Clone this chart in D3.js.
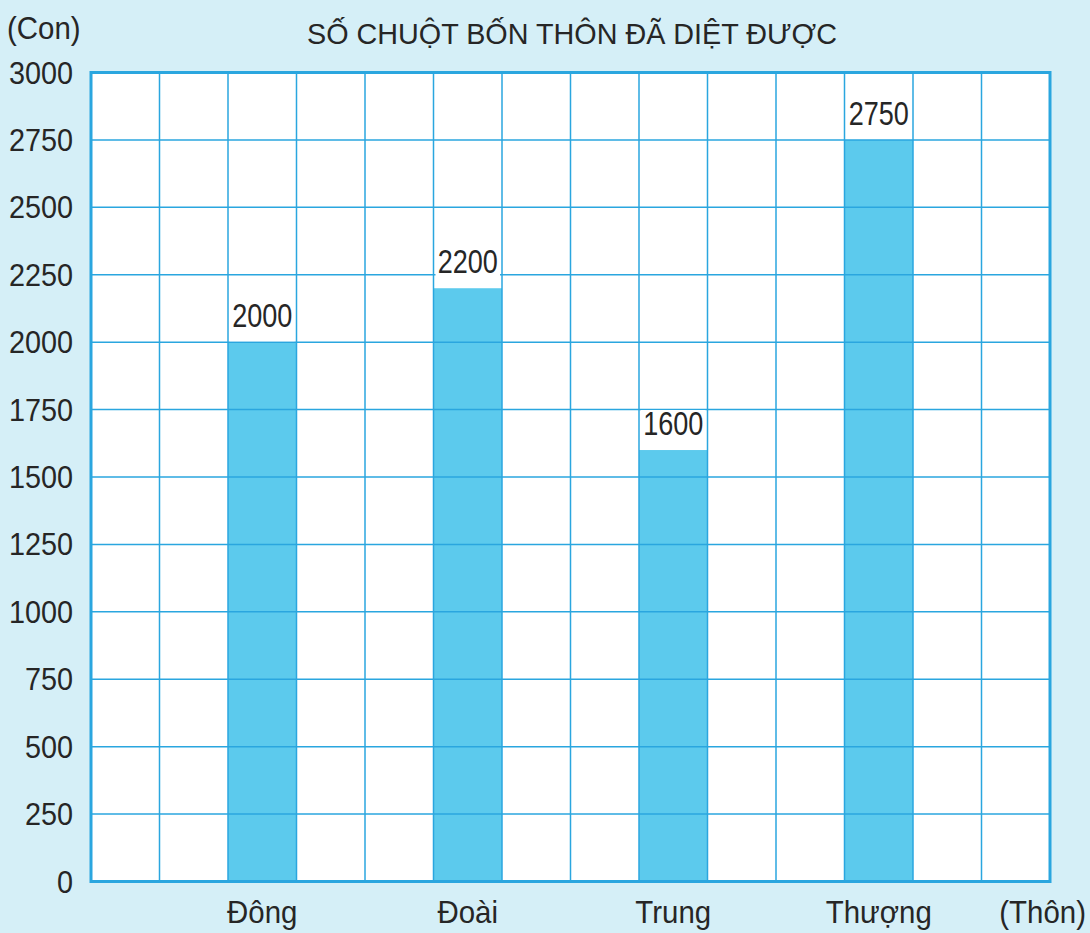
<!DOCTYPE html>
<html lang="vi">
<head>
<meta charset="utf-8">
<title>Số chuột bốn thôn đã diệt được</title>
<script src="https://d3js.org/d3.v7.min.js"></script>
<style>
  html, body { margin: 0; padding: 0; background: #d5eff7; }
  svg { display: block; }
  text { font-family: "Liberation Sans", Arial, Helvetica, sans-serif; fill: #262626; }
</style>
</head>
<body>
<svg width="1090" height="933"></svg>
<script>
// data
var villages = ["Đông", "Đoài", "Trung", "Thượng"];
var killed = [2000, 2200, 1600, 2750];
var yTicks = [0, 250, 500, 750, 1000, 1250, 1500, 1750, 2000, 2250, 2500, 2750, 3000];

var svg = d3.select("svg");

var plotLeft = 91, plotRight = 1050, plotTop = 72.5, plotBottom = 881.5;
var cols = 14;

// grid columns
var xCol = d3.scaleLinear().domain([0, cols]).range([plotLeft, plotRight]);
// one bar per 3 columns, bar in the middle column
var x = d3.scaleBand()
    .domain(villages)
    .range([xCol(1), xCol(13)])
    .paddingInner(2 / 3)
    .paddingOuter(1 / 3);
var y = d3.scaleLinear().domain([0, 3000]).range([plotBottom, plotTop]);

var blue = "#2aa6df";

// plot background
svg.append("rect")
    .attr("x", plotLeft).attr("y", plotTop)
    .attr("width", plotRight - plotLeft).attr("height", plotBottom - plotTop)
    .attr("fill", "#ffffff");

// bars
svg.append("g").selectAll("rect")
    .data(villages)
  .enter().append("rect")
    .attr("x", function(d) { return x(d); })
    .attr("y", function(d, i) { return y(killed[i]); })
    .attr("width", x.bandwidth())
    .attr("height", function(d, i) { return y(0) - y(killed[i]); })
    .attr("fill", "#5ccaed");

// grid
var grid = svg.append("g").attr("stroke", blue).attr("stroke-width", 1.5);
grid.selectAll(".h")
    .data(yTicks.slice(1, -1))
  .enter().append("line")
    .attr("x1", plotLeft).attr("x2", plotRight)
    .attr("y1", function(d) { return y(d); })
    .attr("y2", function(d) { return y(d); });
grid.selectAll(".v")
    .data(d3.range(1, cols))
  .enter().append("line")
    .attr("y1", plotTop).attr("y2", plotBottom)
    .attr("x1", function(d) { return xCol(d); })
    .attr("x2", function(d) { return xCol(d); });

// border
svg.append("rect")
    .attr("x", plotLeft).attr("y", plotTop)
    .attr("width", plotRight - plotLeft).attr("height", plotBottom - plotTop)
    .attr("fill", "none")
    .attr("stroke", blue)
    .attr("stroke-width", 3);

// value labels on white boxes
var lab = svg.append("g").selectAll("g")
    .data(villages)
  .enter().append("g");
lab.append("rect")
    .attr("x", function(d) { return x(d) + 2; })
    .attr("y", function(d, i) { return y(killed[i]) - 40; })
    .attr("width", x.bandwidth() - 4)
    .attr("height", 39)
    .attr("fill", "#ffffff");
lab.append("text")
    .attr("transform", function(d, i) {
      return "translate(" + (x(d) + x.bandwidth() / 2) + "," + (y(killed[i]) - 15) + ") scale(0.82,1)";
    })
    .attr("text-anchor", "middle")
    .style("font-size", "33px")
    .text(function(d, i) { return killed[i]; });

// y tick labels
svg.append("g").selectAll("text")
    .data(yTicks)
  .enter().append("text")
    .attr("transform", function(d) { return "translate(73," + (y(d) + 11) + ") scale(0.9,1)"; })
    .attr("text-anchor", "end")
    .style("font-size", "32px")
    .text(function(d) { return d; });

// x labels
svg.append("g").selectAll("text")
    .data(villages)
  .enter().append("text")
    .attr("transform", function(d) { return "translate(" + (x(d) + x.bandwidth() / 2) + ",923) scale(0.92,1)"; })
    .attr("text-anchor", "middle")
    .style("font-size", "32px")
    .text(function(d) { return d; });

// units
svg.append("text")
    .attr("transform", "translate(7,39) scale(0.92,1)")
    .style("font-size", "32px")
    .text("(Con)");
svg.append("text")
    .attr("transform", "translate(1086,923) scale(0.92,1)")
    .attr("text-anchor", "end")
    .style("font-size", "32px")
    .text("(Thôn)");

// title
svg.append("text")
    .attr("x", 307).attr("y", 44)
    .attr("textLength", 530)
    .attr("lengthAdjust", "spacingAndGlyphs")
    .style("font-size", "30px")
    .text("SỐ CHUỘT BỐN THÔN ĐÃ DIỆT ĐƯỢC");
</script>
</body>
</html>
